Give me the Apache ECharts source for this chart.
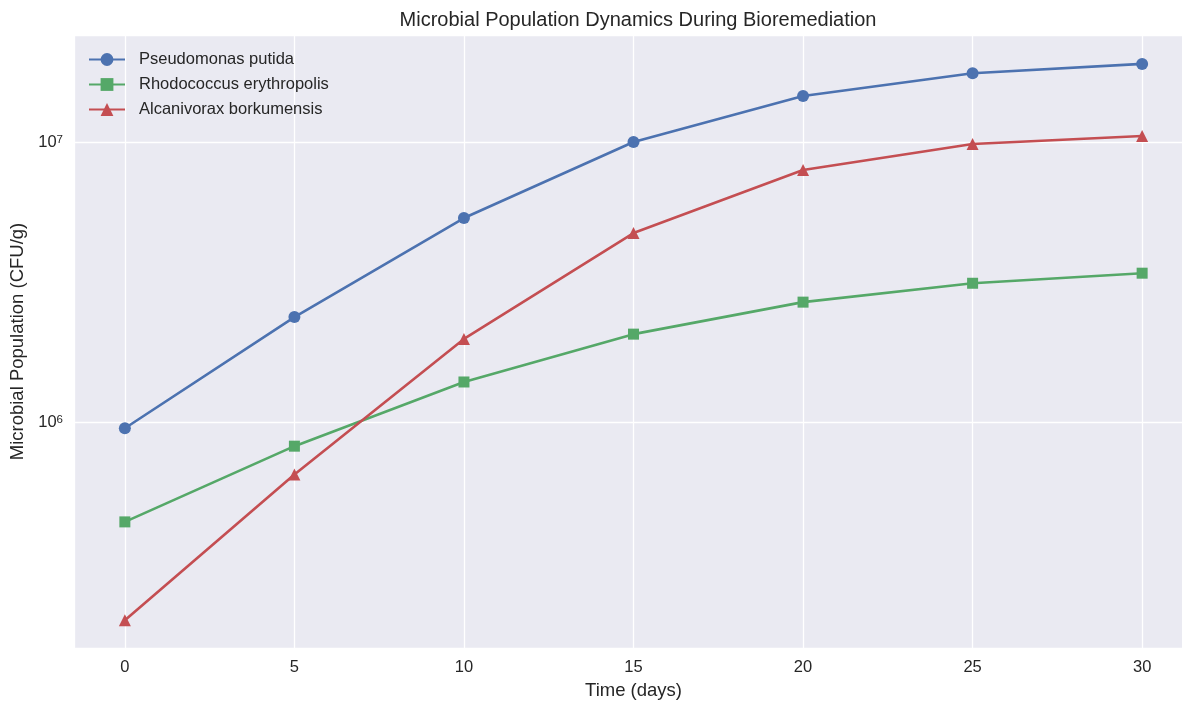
<!DOCTYPE html>
<html>
<head>
<meta charset="utf-8">
<script src="https://cdn.jsdelivr.net/npm/echarts@6/dist/echarts.min.js"></script>
<style>
html,body{margin:0;padding:0;background:#fff;}
#chart{width:1182px;height:701px;}
</style>
</head>
<body>
<div id="chart"></div>
<script>
const days = [0, 5, 10, 15, 20, 25, 30];
const pseudomonas = [9.5e5, 2.37e6, 5.35e6, 1.0e7, 1.46e7, 1.76e7, 1.9e7];
const rhodococcus = [4.4e5, 8.2e5, 1.39e6, 2.06e6, 2.68e6, 3.13e6, 3.4e6];
const alcanivorax = [1.96e5, 6.5e5, 1.98e6, 4.73e6, 7.94e6, 9.84e6, 1.05e7];
const seriesNames = ['Pseudomonas putida', 'Rhodococcus erythropolis', 'Alcanivorax borkumensis'];
const colors = ['#4C72B0', '#55A868', '#C44E52'];
const symbols = ['circle', 'rect', 'triangle'];
const symbolSizes = [12, 11, 12];
const allData = [pseudomonas, rhodococcus, alcanivorax];

const font = 'Liberation Sans, Arial, sans-serif';
const textColor = '#262626';

const chart = echarts.init(document.getElementById('chart'), null, {renderer: 'canvas'});
const option = {
  backgroundColor: '#ffffff',
  animation: false,
  title: {
    text: 'Microbial Population Dynamics During Bioremediation',
    left: 633, top: 5, textAlign: 'center',
    textStyle: {fontFamily: font, fontSize: 20, fontWeight: 'normal', color: textColor}
  },
  legend: {
    orient: 'vertical', left: 83, top: 46,
    itemWidth: 36, itemHeight: 16, itemGap: 8,
    textStyle: {fontFamily: font, fontSize: 16.5, color: textColor, padding: [0, 0, 0, 9]},
    data: seriesNames
  },
  grid: {
    left: 74, top: 35, right: -11, bottom: 53,
    outerBoundsMode: 'none',
    show: true, backgroundColor: '#EAEAF2', borderWidth: 0
  },
  xAxis: {
    type: 'value', min: -1.5, max: 31.5,
    name: 'Time (days)', nameLocation: 'middle', nameGap: 33,
    nameTextStyle: {fontFamily: font, fontSize: 18.5, color: textColor},
    axisLine: {show: false}, axisTick: {show: false},
    axisLabel: {
      fontFamily: font, fontSize: 16.5, color: textColor, margin: 11,
      showMinLabel: false, showMaxLabel: false,
      formatter: v => (Math.abs(v % 5) < 1e-9 ? String(v) : '')
    },
    splitLine: {show: true, lineStyle: {color: '#ffffff', width: 1.3}}
  },
  yAxis: {
    type: 'log', logBase: 10, min: 1.56e5, max: 2.41e7,
    name: 'Microbial Population (CFU/g)', nameLocation: 'middle', nameGap: 45,
    nameTextStyle: {fontFamily: font, fontSize: 18.5, color: textColor},
    axisLine: {show: false}, axisTick: {show: false},
    axisLabel: {
      fontFamily: font, color: textColor, margin: 11,
      showMinLabel: false, showMaxLabel: false,
      formatter: function (v) {
        const e = Math.log10(v);
        if (Math.abs(e - Math.round(e)) > 1e-6) return '';
        return '{b|10}{s|' + Math.round(e) + '}';
      },
      rich: {
        b: {fontFamily: font, fontSize: 16.5, color: textColor, lineHeight: 17, verticalAlign: 'bottom'},
        s: {fontFamily: font, fontSize: 11.5, color: textColor, verticalAlign: 'top', lineHeight: 11}
      }
    },
    splitLine: {show: true, lineStyle: {color: '#ffffff', width: 1.3}}
  },
  series: seriesNames.map((name, i) => ({
    name: name,
    type: 'line',
    data: days.map((d, j) => [d, allData[i][j]]),
    symbol: symbols[i],
    symbolSize: symbolSizes[i],
    showAllSymbol: true,
    color: colors[i],
    lineStyle: {width: 2.6, color: colors[i]},
    itemStyle: {color: colors[i]},
    emphasis: {disabled: true}
  }))
};
chart.setOption(option);
</script>
</body>
</html>
